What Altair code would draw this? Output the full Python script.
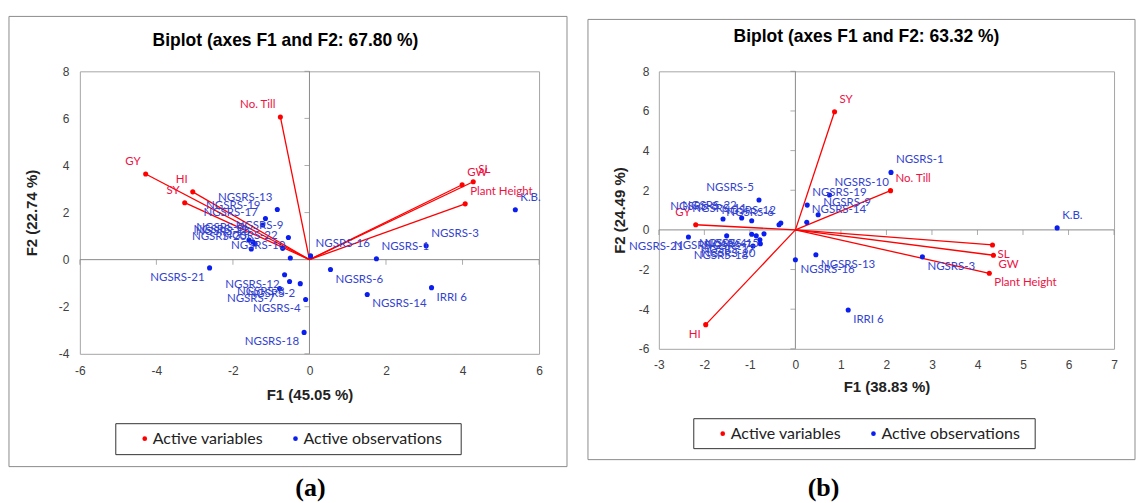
import altair as alt
import pandas as pd

# ---------------- panel (a) data ----------------
A_TITLE = "Biplot (axes F1 and F2: 67.80 %)"
A_XTITLE = "F1 (45.05 %)"
A_YTITLE = "F2 (22.74 %)"
A_CAPTION = "(a)"
A_XTICKS = [-6, -4, -2, 0, 2, 4, 6]
A_YTICKS = [-4, -2, 0, 2, 4, 6, 8]
A_OBS_NAMES = ["NGSRS-13", "NGSRS-19", "NGSRS-17", "NGSRS-9", "NGSRS-22", "NGSRS-10",
               "NGSRS-5", "NGSRS-11", "NGSRS-15", "NGSRS-20",
               "NGSRS-21", "NGSRS-12", "NGSRS-8", "NGSRS-2", "NGSRS-7", "NGSRS-4", "NGSRS-18",
               "NGSRS-16", "NGSRS-1", "NGSRS-3", "K.B.", "NGSRS-6", "NGSRS-14", "IRRI 6"]
A_OBS_F1 = [-0.84, -1.15, -1.22, -0.55, -0.70, -0.50,
            -1.58, -1.48, -1.42, -1.52,
            -2.61, -0.65, -0.52, -0.24, -0.78, -0.10, -0.14,
            0.03, 1.75, 3.05, 5.38, 0.55, 1.51, 3.19]
A_OBS_F2 = [2.13, 1.75, 1.47, 0.94, 0.48, 0.07,
            0.83, 0.76, 0.67, 0.45,
            -0.35, -0.64, -0.93, -1.02, -1.23, -1.69, -3.09,
            0.16, 0.04, 0.59, 2.12, -0.42, -1.48, -1.19]
A_VAR_NAMES = ["GY", "HI", "SY", "No. Till", "GW", "SL", "Plant Height"]
A_VAR_F1 = [-4.28, -3.05, -3.26, -0.76, 3.99, 4.28, 4.07]
A_VAR_F2 = [3.64, 2.88, 2.42, 6.06, 3.18, 3.31, 2.37]

# ---------------- panel (b) data ----------------
B_TITLE = "Biplot (axes F1 and F2: 63.32 %)"
B_XTITLE = "F1 (38.83 %)"
B_YTITLE = "F2 (24.49 %)"
B_CAPTION = "(b)"
B_XTICKS = [-3, -2, -1, 0, 1, 2, 3, 4, 5, 6, 7]
B_YTICKS = [-6, -4, -2, 0, 2, 4, 6, 8]
B_OBS_NAMES = ["NGSRS-1", "NGSRS-10", "NGSRS-19", "NGSRS-9", "NGSRS-14", "K.B.",
               "NGSRS-16", "NGSRS-13", "NGSRS-3", "IRRI 6",
               "NGSRS-5", "NGSRS-8", "NGSRS-22", "NGSRS-11", "NGSRS-6", "NGSRS-12",
               "NGSRS-21", "NGSRS-2", "NGSRS-4", "NGSRS-7", "NGSRS-15", "NGSRS-17", "NGSRS-20", "NGSRS-18"]
B_OBS_F1 = [2.10, 0.75, 0.26, 0.50, 0.25, 5.75,
            0.00, 0.45, 2.79, 1.16,
            -0.80, -1.59, -1.18, -0.96, -0.36, -0.32,
            -2.35, -1.51, -0.96, -0.86, -0.69, -0.78, -0.77, -0.93]
B_OBS_F2 = [2.90, 1.76, 1.25, 0.76, 0.38, 0.10,
            -1.51, -1.25, -1.36, -4.04,
            1.51, 0.55, 0.60, 0.46, 0.26, 0.35,
            -0.36, -0.30, -0.22, -0.30, -0.20, -0.50, -0.70, -0.81]
B_VAR_NAMES = ["SY", "No. Till", "GY", "HI", "SL", "GW", "Plant Height"]
B_VAR_F1 = [0.86, 2.09, -2.19, -1.97, 4.33, 4.35, 4.26]
B_VAR_F2 = [5.96, 1.98, 0.26, -4.78, -0.76, -1.28, -2.19]

LEGEND_LABELS = ["Active variables", "Active observations"]

RED = "#FF0000"
RED_TXT = "#EE1144"
BLUE = "#0A1EF0"
BLUE_TXT = "#3343D0"
ZERO_GRAY = "#8A8A8A"
BOX_GRAY = "#8C8C8C"
SANS = "Liberation Sans"
LBL = "Lato"


def panel(obs_names, obs_f1, obs_f2, var_names, var_f1, var_f2,
          xticks, yticks, title, xtitle, ytitle, caption, lay):
    obs = pd.DataFrame({"name": obs_names, "F1": obs_f1, "F2": obs_f2,
                        "type": LEGEND_LABELS[1]})
    var = pd.DataFrame({"name": var_names, "F1": var_f1, "F2": var_f2,
                        "type": LEGEND_LABELS[0]})
    pts = pd.concat([var, obs], ignore_index=True)
    xt = pd.DataFrame({"F1": [v for v in xticks if v != 0]})
    yt = pd.DataFrame({"F2": [v for v in yticks if v != 0]})
    one = pd.DataFrame({"k": [0]})

    xscale = alt.Scale(domain=[xticks[0], xticks[-1]], nice=False, zero=False)
    yscale = alt.Scale(domain=[yticks[0], yticks[-1]], nice=False, zero=False)
    xaxis = alt.Axis(values=xticks, title=xtitle, grid=False, ticks=False, domain=False,
                     labelFont=SANS, labelFontSize=12, labelColor="#404040",
                     labelPadding=lay["xlp"], titleFont=SANS, titleFontSize=15,
                     titleFontWeight="bold", titleColor="#222", titlePadding=lay["xtp"],
                     labelExpr="datum.value + ''", labelFlush=False)
    yaxis = alt.Axis(values=yticks, title=ytitle, grid=False, ticks=False, domain=False,
                     labelFont=SANS, labelFontSize=12, labelColor="#404040",
                     labelPadding=lay["ylp"], titleFont=SANS, titleFontSize=15,
                     titleFontWeight="bold", titleColor="#222", titlePadding=lay["ytp"],
                     labelExpr="datum.value + ''", labelFlush=False)

    def X(**kw):
        return alt.X(scale=xscale, axis=xaxis, **kw)

    def Y(**kw):
        return alt.Y(scale=yscale, axis=yaxis, **kw)

    bx = lay["box"]
    outer = alt.Chart(one).mark_rect(fillOpacity=0, stroke=BOX_GRAY, strokeWidth=1).encode(
        x=alt.value(bx[0]), x2=alt.value(bx[1]), y=alt.value(bx[2]), y2=alt.value(bx[3]))

    ttl = alt.Chart(one).mark_text(font=SANS, fontSize=17.5, fontWeight="bold",
                                   color="black", align="center", baseline="middle").encode(
        x=alt.value(lay["title"][0]), y=alt.value(lay["title"][1]), text=alt.value(title))

    zero_v = alt.Chart(one).mark_rule(color=ZERO_GRAY, strokeWidth=1).encode(x=X(datum=0))
    zero_h = alt.Chart(one).mark_rule(color=ZERO_GRAY, strokeWidth=1).encode(y=Y(datum=0))
    ticks_v = alt.Chart(yt).mark_tick(color=ZERO_GRAY, orient="horizontal", size=5,
                                      thickness=1, xOffset=-2.5).encode(
        x=X(datum=0), y=Y(field="F2", type="quantitative"))
    ticks_h = alt.Chart(xt).mark_tick(color=ZERO_GRAY, orient="vertical", size=5,
                                      thickness=1, yOffset=2.5).encode(
        x=X(field="F1", type="quantitative"), y=Y(datum=0))

    vectors = alt.Chart(var).mark_rule(color=RED, strokeWidth=1.3).encode(
        x=X(field="F1", type="quantitative"), y=Y(field="F2", type="quantitative"),
        x2=alt.datum(0), y2=alt.datum(0))

    lg = lay["legend"]
    points = alt.Chart(pts).mark_circle(size=26, opacity=1).encode(
        x=X(field="F1", type="quantitative"), y=Y(field="F2", type="quantitative"),
        color=alt.Color("type:N",
                        scale=alt.Scale(domain=LEGEND_LABELS, range=[RED, BLUE]),
                        legend=alt.Legend(title=None, orient="none", legendX=lg[0],
                                          legendY=lg[1], direction="horizontal",
                                          labelFont=LBL, labelFontSize=16,
                                          labelColor="#222", symbolType="circle",
                                          symbolSize=22, symbolStrokeWidth=0,
                                          labelOffset=0, columnPadding=24, padding=0,
                                          labelLimit=400)))

    def labels(df, color):
        out = []
        specs = [("datum.F1 < 0 && datum.F2 >= 0", "right", -5, -12),
                 ("datum.F1 < 0 && datum.F2 < 0", "right", -5, 10),
                 ("datum.F1 >= 0 && datum.F2 >= 0", "left", 5, -12),
                 ("datum.F1 >= 0 && datum.F2 < 0", "left", 5, 10)]
        for expr, align, dx, dy in specs:
            out.append(alt.Chart(df).transform_filter(expr).mark_text(
                align=align, baseline="middle", dx=dx, dy=dy, font=LBL, fontSize=11.5,
                color=color).encode(
                x=X(field="F1", type="quantitative"), y=Y(field="F2", type="quantitative"),
                text="name:N"))
        return out

    lb = lay["legbox"]
    legbox = alt.Chart(one).mark_rect(fillOpacity=0, stroke="#333", strokeWidth=1).encode(
        x=alt.value(lb[0]), x2=alt.value(lb[1]), y=alt.value(lb[2]), y2=alt.value(lb[3]))

    cap = alt.Chart(one).mark_text(font="Liberation Serif", fontSize=26, fontWeight="bold",
                                   color="black", align="center", baseline="middle").encode(
        x=alt.value(lay["cap"][0]), y=alt.value(lay["cap"][1]), text=alt.value(caption))

    layers = [outer, ttl, zero_v, zero_h, ticks_v, ticks_h, vectors, points]
    layers += labels(var, RED_TXT)
    layers += labels(obs, BLUE_TXT)
    layers += [legbox, cap]
    return alt.layer(*layers).properties(width=lay["w"], height=lay["h"])


A_LAY = dict(w=460, h=283, box=[-71, 488, -55, 396], legbox=[36, 382, 353, 384],
             legend=[57, 360], cap=[231, 417], title=[206, -30],
             xlp=12, xtp=11, ylp=11, ytp=19)
B_LAY = dict(w=456, h=278, box=[-71, 477, -52, 389], legbox=[35, 377, 348, 378],
             legend=[56, 355], cap=[165, 417], title=[208, -34],
             xlp=11, xtp=9, ylp=10, ytp=11)

pa = panel(A_OBS_NAMES, A_OBS_F1, A_OBS_F2, A_VAR_NAMES, A_VAR_F1, A_VAR_F2,
           A_XTICKS, A_YTICKS, A_TITLE, A_XTITLE, A_YTITLE, A_CAPTION, A_LAY)
pb = panel(B_OBS_NAMES, B_OBS_F1, B_OBS_F2, B_VAR_NAMES, B_VAR_F1, B_VAR_F2,
           B_XTICKS, B_YTICKS, B_TITLE, B_XTITLE, B_YTITLE, B_CAPTION, B_LAY)

chart = alt.hconcat(pa, pb, spacing=19).resolve_scale(
    x="independent", y="independent", color="independent").resolve_legend(
    color="independent").properties(
    padding={"left": 8, "top": 15, "right": 0, "bottom": 0},
    background="white").configure_view(stroke="#A6A6A6", strokeWidth=1)

chart.save("out.html", embed_options={"renderer": "svg", "actions": False})
